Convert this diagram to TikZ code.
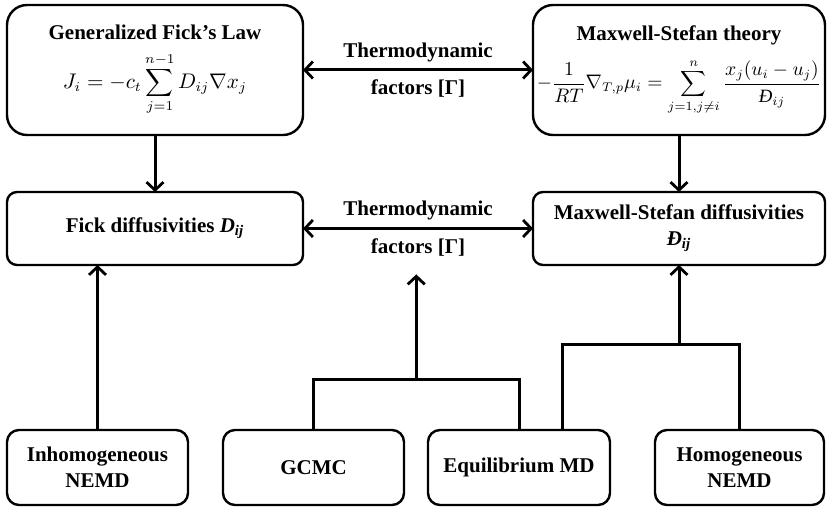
\documentclass[tikz,border=0pt]{standalone}
\usepackage{fontspec}
\setmainfont{Liberation Serif}
\usepackage{tikz}
\usetikzlibrary{arrows.meta,positioning,calc}

\begin{document}
\begin{tikzpicture}[>={Straight Barb[length=4pt,width=8.5pt,line width=1.4pt]},
  every node/.style={font=\fontsize{10.5pt}{13pt}\selectfont\bfseries},
  bigbox/.style={draw,line width=1.2pt,outer sep=0pt,rounded corners=10pt,align=center,minimum height=65pt,inner sep=1pt},
  midbox/.style={draw,line width=1.2pt,outer sep=0pt,rounded corners=5pt,align=center,minimum height=36.5pt},
  lowbox/.style={draw,line width=1.2pt,outer sep=0pt,rounded corners=6pt,align=center,minimum height=37.5pt,inner sep=2pt},
  wire/.style={line width=1.5pt}]
\useasboundingbox (0,0) rectangle (413.5pt,-253.5pt);
\node[bigbox,minimum width=148pt] (fick) at (77.5pt,-35pt) {Generalized Fick’s Law\\[6pt] \resizebox{92pt}{!}{$\displaystyle J_i=-c_t\sum_{j=1}^{n-1}D_{ij}\nabla x_j$}};
\node[bigbox,right=115pt of fick,minimum width=146pt] (ms) {Maxwell-Stefan theory\\[6pt] \resizebox{142pt}{!}{$\displaystyle -\frac{1}{RT}\nabla_{T,p}\mu_i=\sum_{j=1,j\neq i}^{n}\frac{x_j(u_i-u_j)}{\textnormal{\itshape Đ}_{ij}}$}};
\node[midbox,below=28.5pt of fick,minimum width=148pt] (fickd) {Fick diffusivities \textit{D}\textsubscript{\textit{ij}}};
\node[midbox,below=28.5pt of ms,minimum width=146pt] (msd) {Maxwell-Stefan diffusivities\\ \textit{Đ}\textsubscript{\textit{ij}}};
\node[lowbox,below=82.5pt of fickd.south west,anchor=north west,minimum width=90.5pt] (inh) {Inhomogeneous\\ NEMD};
\node[lowbox,right=17.5pt of inh,minimum width=90.5pt] (gcmc) {GCMC};
\node[lowbox,right=12pt of gcmc,minimum width=91pt] (eqmd) {Equilibrium MD};
\node[lowbox,right=22.5pt of eqmd,minimum width=84.5pt] (hom) {Homogeneous\\ NEMD};
% joints of the forked wires
\coordinate (gj) at ($(gcmc.north)!0.5!(eqmd.north)+(0,25pt)$);
\coordinate (ef) at ($(eqmd.north east)+(-24pt,0)$);
\coordinate (mj) at ($(msd.south)+(0,-40pt)$);
\draw[wire,<->] (fick) -- node[above]{Thermodynamic} node[below=1pt]{factors [Γ]} (ms);
\draw[wire,<->] (fickd) -- node[above]{Thermodynamic} node[below=1pt] (tf) {factors [Γ]} (msd);
\draw[wire,->] (fick) -- (fickd);
\draw[wire,->] (ms) -- (msd);
\draw[wire,->] (inh) -- (inh |- fickd.south);
\draw[wire] (gcmc.north) |- (gj) -| (eqmd.north);
\draw[wire,->] (gj) -- ([yshift=-5pt]gj |- tf.south);
\draw[wire] (ef) |- (mj -| hom.north) -- (hom.north);
\draw[wire,->] (mj) -- (msd);
\end{tikzpicture}
\end{document}
